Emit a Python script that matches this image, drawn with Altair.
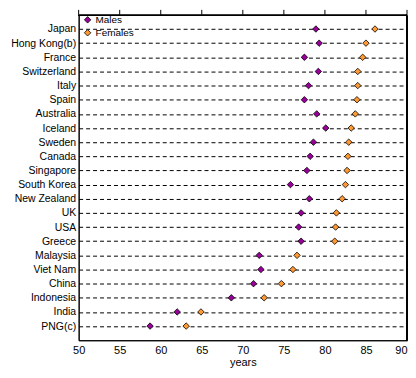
import altair as alt
import pandas as pd

countries = ["Japan", "Hong Kong(b)", "France", "Switzerland", "Italy", "Spain",
             "Australia", "Iceland", "Sweden", "Canada", "Singapore", "South Korea",
             "New Zealand", "UK", "USA", "Greece", "Malaysia", "Viet Nam", "China",
             "Indonesia", "India", "PNG(c)"]
males = [78.9, 79.3, 77.5, 79.2, 78.0, 77.5, 79.0, 80.1, 78.6, 78.2, 77.8, 75.8,
         78.1, 77.1, 76.8, 77.1, 72.0, 72.2, 71.3, 68.6, 62.0, 58.7]
females = [86.1, 85.0, 84.6, 84.0, 84.0, 83.9, 83.7, 83.2, 82.9, 82.8, 82.7, 82.5,
           82.1, 81.4, 81.3, 81.2, 76.6, 76.1, 74.7, 72.6, 64.9, 63.1]
series = ["Males", "Females"]
colors = ["#990099", "#FF9933"]
x_ticks = [50, 55, 60, 65, 70, 75, 80, 85, 90]

rows = []
for c, m, f in zip(countries, males, females):
    rows.append({"country": c, "sex": "Males", "value": m})
    rows.append({"country": c, "sex": "Females", "value": f})
df = pd.DataFrame(rows)
ticks_df = pd.DataFrame({"t": x_ticks})

FONT = "Liberation Sans"
W, H = 330, 327

xscale = alt.Scale(domain=[50, 90], nice=False, zero=False)
yscale = alt.Scale(type="point", padding=1)
yaxis = alt.Axis(title=None, grid=True, gridDash=[4, 3], gridColor="black",
                 gridOpacity=1, gridWidth=1, ticks=False, domain=True,
                 domainColor="black", labelPadding=3, labelFontSize=10.5,
                 labelFont=FONT, labelColor="black")

points = alt.Chart(df).mark_point(shape="diamond", filled=True, stroke="black",
                                  strokeWidth=0.8, size=42, opacity=1).encode(
    x=alt.X("value:Q", scale=xscale,
            axis=alt.Axis(title="years", values=x_ticks, ticks=False, grid=False,
                          domainColor="black", labelFontSize=11, labelFont=FONT,
                          labelColor="black", labelPadding=4, labelFlush=False,
                          labelAlign=alt.ExprRef(expr="datum.value >= 90 ? 'right' : 'center'"),
                          titleFont=FONT, titleFontSize=11, titleFontWeight="normal",
                          titleColor="black", titlePadding=1)),
    y=alt.Y("country:N", sort=countries, scale=yscale, axis=yaxis),
    color=alt.Color("sex:N", scale=alt.Scale(domain=series, range=colors),
                    legend=alt.Legend(title=None, orient="none", legendX=4, legendY=0,
                                      symbolType="diamond", symbolSize=42,
                                      symbolStrokeColor="black", symbolStrokeWidth=0.8,
                                      labelFontSize=10, labelFont=FONT,
                                      labelColor="black", rowPadding=3,
                                      labelOffset=3, padding=0)),
)

top_ticks = alt.Chart(ticks_df).mark_rule(color="black", strokeWidth=1).encode(
    x=alt.X("t:Q", scale=xscale),
    y=alt.value(-5), y2=alt.value(0),
)
frame = alt.Chart(ticks_df).mark_rule(color="black", strokeWidth=1).encode(
    x=alt.value(0), x2=alt.value(W), y=alt.value(0.5),
)
right_line = alt.Chart(ticks_df).mark_rule(color="black", strokeWidth=1).encode(
    x=alt.value(W - 0.5), y=alt.value(0), y2=alt.value(H),
)

chart = alt.layer(points, top_ticks, frame, right_line).properties(
    width=W, height=H,
    padding={"left": 2, "top": 0, "right": 0, "bottom": 0},
).configure_view(stroke="black", strokeWidth=1)

chart.save("out.html", embed_options={"renderer": "svg", "actions": False})
